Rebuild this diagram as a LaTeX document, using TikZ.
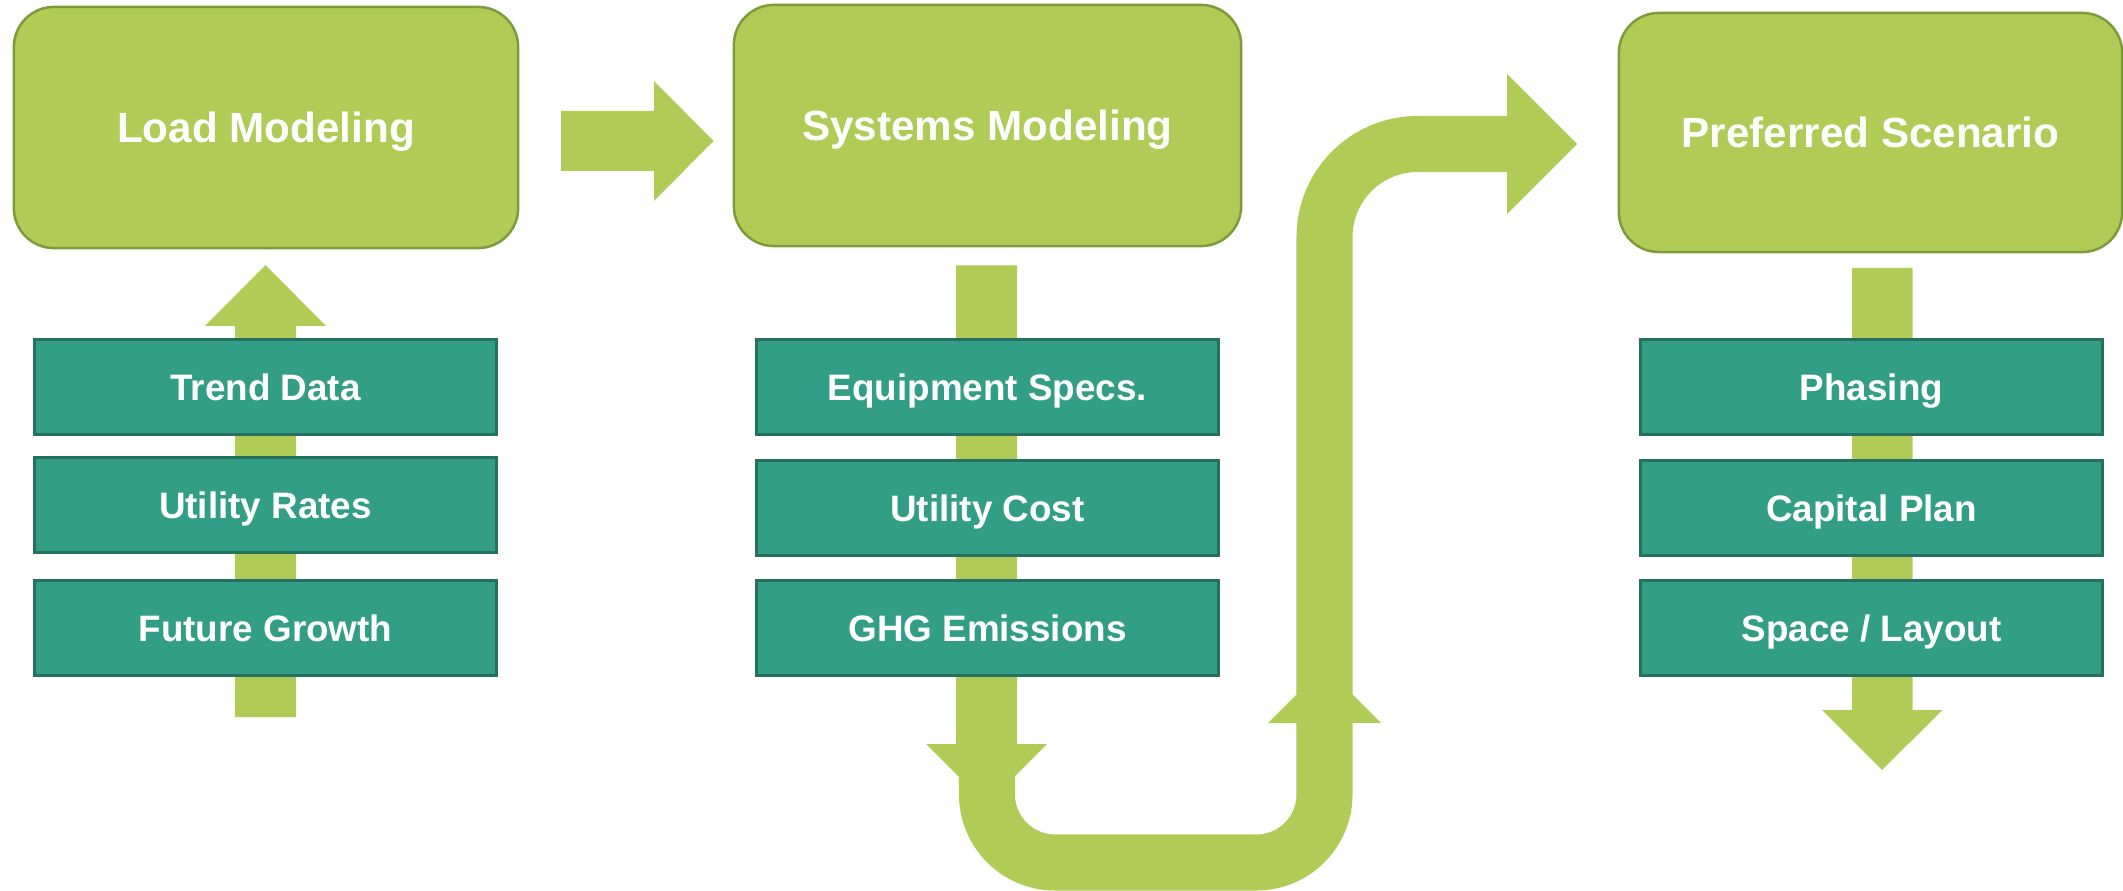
\documentclass[tikz,border=0pt]{standalone}
\usepackage{fontspec}
\setmainfont{Liberation Sans}
\definecolor{lgreen}{HTML}{B0CC56}
\definecolor{lgborder}{HTML}{7E9B3B}
\definecolor{tealfill}{HTML}{339E86}
\definecolor{tealborder}{HTML}{25705E}
\begin{document}
\begin{tikzpicture}[x=0.01cm,y=-0.01cm,
  bigbox/.style={draw=lgborder, line width=0.025cm, fill=lgreen, rounded corners=0.40cm,
    text=white, font=\bfseries\fontsize{12}{14}\selectfont, text height=8.6pt, text depth=0pt, inner sep=0pt},
  itembox/.style={draw=tealborder, line width=0.03cm, fill=tealfill, text=white,
    font=\bfseries\fontsize{10.47}{12}\selectfont, text height=7.5pt, text depth=0pt, inner sep=0pt,
    minimum width=4.61cm, minimum height=0.94cm},
  blockarrow/.style={fill=lgreen},
  band/.style={draw=lgreen, line width=0.56cm}]
\useasboundingbox (0,0) rectangle (2123,891);

% ---- arrow coordinates ----
\coordinate (upL) at (265.5,265);
\coordinate (r1tip) at (713.5,141);
\coordinate (dM) at (986.5,804.5);
\coordinate (uR) at (1324.5,666.5);
\coordinate (r2tip) at (1577,144);
\coordinate (dR) at (1882,770);

% ---- block arrows (behind boxes) ----
\fill[blockarrow] (235,717) -- (235,326) -- (205,326) -- (upL) -- (326,326) -- (296,326) -- (296,717) -- cycle;
\fill[blockarrow] (561,111) -- (654,111) -- (654,81) -- (r1tip) -- (654,201) -- (654,171) -- (561,171) -- cycle;
\fill[blockarrow] (956,265.5) -- (1017,265.5) -- (1017,744) -- (1047,744) -- (dM) -- (926,744) -- (956,744) -- cycle;
\draw[band] (987,770) [rounded corners=0.68cm] -- (987,862.5) -- (1324.5,862.5) -- (1324.5,500)
  [rounded corners=0.93cm] -- (1324.5,144) -- (1509,144);
\fill[blockarrow] (1268,723) -- (uR) -- (1381,723) -- cycle;
\fill[blockarrow] (1507,74) -- (r2tip) -- (1507,214) -- cycle;
\fill[blockarrow] (1852,268) -- (1912.5,268) -- (1912.5,710) -- (1942.5,710) -- (dR) -- (1822,710) -- (1852,710) -- cycle;

% ---- main boxes ----
\node[bigbox, minimum width=5.04cm, minimum height=2.41cm] (load) at (266,127.5) {Load Modeling};
\node[bigbox, minimum width=5.07cm, minimum height=2.41cm] (sys) at (987.5,125.5) {Systems Modeling};
\node[bigbox, minimum width=5.03cm, minimum height=2.39cm] (pref) at (1870.5,132.5) {Preferred Scenario};

% ---- item boxes ----
\node[itembox] (trend) at (265.5,387) {Trend Data};
\node[itembox] (rates) at (265.5,505) {Utility Rates};
\node[itembox] (growth) at (265.5,628) {Future Growth};

\node[itembox] (equip) at (987.5,387) {Equipment Specs.};
\node[itembox] (cost) at (987.5,508) {Utility Cost};
\node[itembox] (ghg) at (987.5,628) {GHG Emissions};

\node[itembox] (phasing) at (1871.5,387) {Phasing};
\node[itembox] (capital) at (1871.5,508) {Capital Plan};
\node[itembox] (space) at (1871.5,628) {Space / Layout};
\end{tikzpicture}
\end{document}
